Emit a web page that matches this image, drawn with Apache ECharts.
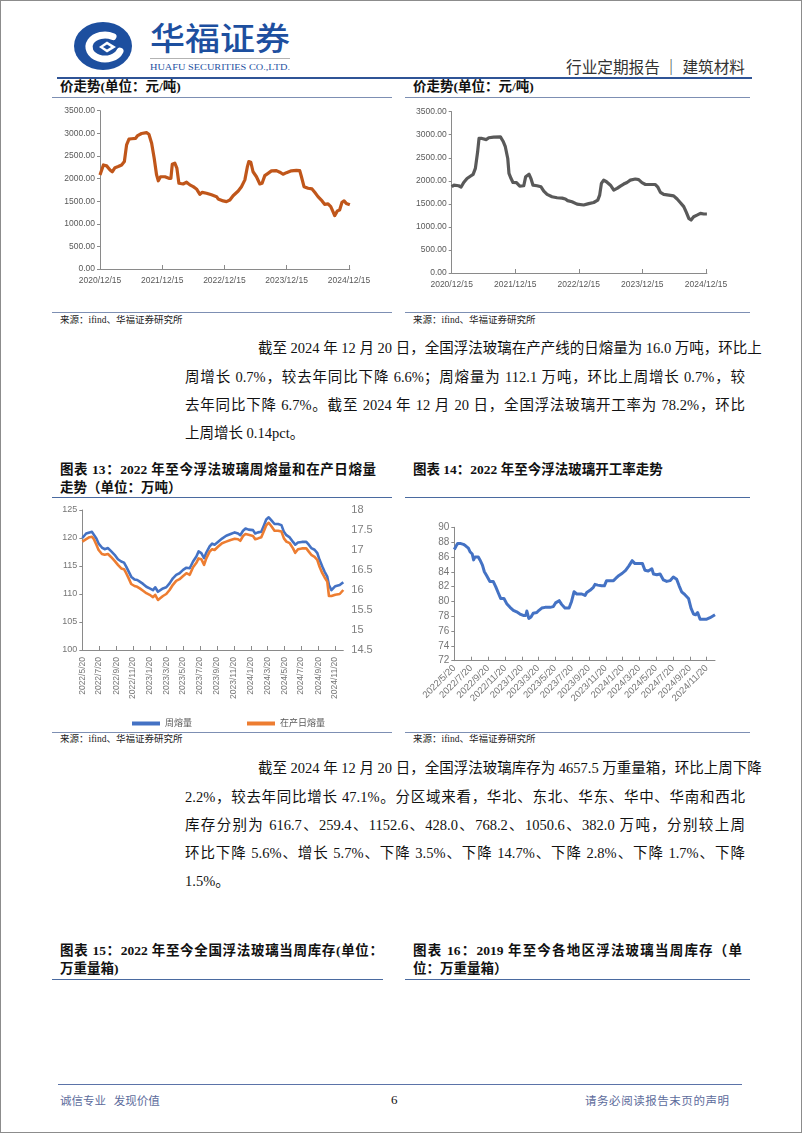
<!DOCTYPE html>
<html><head><meta charset="utf-8">
<script src="https://cdn.jsdelivr.net/npm/echarts@6.0.0/dist/echarts.min.js"></script>
<style>
html,body{margin:0;padding:0;background:#fff;}
#page{position:relative;width:802px;height:1133px;overflow:hidden;background:#fff;font-family:'Liberation Serif','Noto Sans CJK SC',serif;color:#111;}
#frame{position:absolute;left:0;top:0;width:802px;height:1133px;box-sizing:border-box;border:1px solid #8c8c8c;pointer-events:none;}
.t{position:absolute;white-space:nowrap;}
.j{text-align:justify;text-align-last:justify;}
.body{font-size:14.5px;line-height:20px;height:20px;}
.h{font-size:13.5px;font-weight:bold;line-height:18px;height:18px;}
.src{font-size:9.5px;line-height:12px;height:12px;color:#222;}
.rule{position:absolute;height:0;border-top:1px solid #7d8fb3;}
.foot{font-size:11.5px;line-height:14px;color:#5d6c9c;font-family:'Noto Sans CJK SC',sans-serif;}
#chart{position:absolute;left:0;top:0;width:802px;height:1133px;}
</style></head>
<body>
<div id="page">
<svg style="position:absolute;left:0;top:0" width="802" height="82">
  <ellipse cx="103" cy="46" rx="29" ry="24" fill="#1d4f9f"/>
  <path d="M113 36.6 A16 12 0 1 0 120 51.1" stroke="#fff" stroke-width="7" fill="none" stroke-linecap="round"/>
  <polygon points="99,47 107,41.5 116,47 107,52.5" fill="#fff"/>
  <polygon points="103,47 107,44.5 111,47 107,49.5" fill="#1d4f9f"/>
  <text x="150" y="50" font-size="32" fill="#1d4f9f" textLength="140" lengthAdjust="spacingAndGlyphs" font-family="Noto Sans CJK SC" font-weight="500">华福证券</text>
  <line x1="150" y1="58.5" x2="290" y2="58.5" stroke="#a0a0a0" stroke-width="0.8"/>
  <text x="150" y="70" font-size="9" textLength="140" lengthAdjust="spacingAndGlyphs" font-family="Liberation Serif" fill="#1d4f9f">HUAFU SECURITIES CO.,LTD.</text>
  <text x="566" y="73" font-size="16" textLength="179" lengthAdjust="spacingAndGlyphs" font-family="Noto Sans CJK SC" fill="#333">行业定期报告 ｜ 建筑材料</text>
</svg>
<div class="rule" style="left:57px;top:77px;width:695px;border-top:2px solid #2f5496;"></div>

<div class="t h" style="left:60px;top:78px;">价走势(单位：元/吨)</div>
<div class="t h" style="left:413px;top:78px;">价走势(单位：元/吨)</div>
<div class="rule" style="left:52px;top:97px;width:340px;"></div>
<div class="rule" style="left:405px;top:97px;width:345px;"></div>
<div class="rule" style="left:52px;top:312px;width:340px;"></div>
<div class="rule" style="left:405px;top:312px;width:345px;"></div>
<div class="t src" style="left:60px;top:314px;">来源：ifind、华福证券研究所</div>
<div class="t src" style="left:413px;top:314px;">来源：ifind、华福证券研究所</div>

<div class="t body j" style="left:258px;top:338px;width:487px;">截至 2024 年 12 月 20 日，全国浮法玻璃在产产线的日熔量为 16.0 万吨，环比上</div>
<div class="t body j" style="left:185px;top:367px;width:560px;">周增长 0.7%，较去年同比下降 6.6%；周熔量为 112.1 万吨，环比上周增长 0.7%，较</div>
<div class="t body j" style="left:185px;top:395px;width:560px;">去年同比下降 6.7%。截至 2024 年 12 月 20 日，全国浮法玻璃开工率为 78.2%，环比</div>
<div class="t body" style="left:185px;top:423px;">上周增长 0.14pct。</div>

<div class="t h j" style="left:60px;top:461px;width:316px;">图表 13：2022 年至今浮法玻璃周熔量和在产日熔量</div>
<div class="t h" style="left:60px;top:479px;">走势（单位：万吨）</div>
<div class="t h" style="left:413px;top:461px;">图表 14：2022 年至今浮法玻璃开工率走势</div>
<div class="rule" style="left:52px;top:497px;width:340px;border-top:1.5px solid #4a6aa0;"></div>
<div class="rule" style="left:405px;top:497px;width:345px;border-top:1.5px solid #4a6aa0;"></div>
<div class="rule" style="left:52px;top:732px;width:340px;"></div>
<div class="rule" style="left:405px;top:732px;width:345px;"></div>
<div class="t src" style="left:60px;top:733px;">来源：ifind、华福证券研究所</div>
<div class="t src" style="left:413px;top:733px;">来源：ifind、华福证券研究所</div>

<div class="t body j" style="left:258px;top:758px;width:487px;">截至 2024 年 12 月 20 日，全国浮法玻璃库存为 4657.5 万重量箱，环比上周下降</div>
<div class="t body j" style="left:185px;top:787px;width:560px;">2.2%，较去年同比增长 47.1%。分区域来看，华北、东北、华东、华中、华南和西北</div>
<div class="t body j" style="left:185px;top:815px;width:560px;">库存分别为 616.7、259.4、1152.6、428.0、768.2、1050.6、382.0 万吨，分别较上周</div>
<div class="t body j" style="left:185px;top:843px;width:560px;">环比下降 5.6%、增长 5.7%、下降 3.5%、下降 14.7%、下降 2.8%、下降 1.7%、下降</div>
<div class="t body" style="left:185px;top:871px;">1.5%。</div>

<div class="t h j" style="left:60px;top:942px;width:323px;">图表 15：2022 年至今全国浮法玻璃当周库存(单位：</div>
<div class="t h" style="left:60px;top:960px;">万重量箱)</div>
<div class="t h j" style="left:413px;top:942px;width:329px;">图表 16：2019 年至今各地区浮法玻璃当周库存（单</div>
<div class="t h" style="left:413px;top:960px;">位：万重量箱）</div>
<div class="rule" style="left:52px;top:979px;width:331px;border-top:1.5px solid #4a6aa0;"></div>
<div class="rule" style="left:405px;top:979px;width:345px;border-top:1.5px solid #4a6aa0;"></div>

<div class="rule" style="left:58px;top:1084px;width:684px;border-top:1.5px solid #5b73a8;"></div>
<div class="t foot" style="left:60px;top:1093px;">诚信专业&nbsp;&nbsp;&nbsp;发现价值</div>
<div class="t" style="left:391px;top:1092px;font-size:13px;line-height:16px;font-family:'Liberation Serif';">6</div>
<div class="t foot j" style="left:585px;top:1093px;width:144px;">请务必阅读报告末页的声明</div>

<div id="chart"></div>
<div id="frame"></div>
</div>
<script>
// ---- data ----
const priceTicks = ['2020/12/15','2021/12/15','2022/12/15','2023/12/15','2024/12/15'];
const meltTicks = ['2022/5/20','2022/7/20','2022/9/20','2022/11/20','2023/1/20','2023/3/20','2023/5/20','2023/7/20','2023/9/20','2023/11/20','2024/1/20','2024/3/20','2024/5/20','2024/7/20','2024/9/20','2024/11/20'];

const p1Dates = ['2020-12-15','2021-01-04','2021-01-23','2021-02-12','2021-02-25','2021-03-13','2021-04-01','2021-04-21','2021-05-07','2021-05-20',
'2021-06-03','2021-06-19','2021-07-12','2021-07-24','2021-08-16','2021-09-14','2021-09-28','2021-10-14','2021-10-29','2021-11-12',
'2021-11-22','2021-12-05','2021-12-31','2022-01-23','2022-02-04','2022-02-12','2022-02-27','2022-03-11','2022-03-23','2022-04-17',
'2022-05-07','2022-05-17','2022-05-26','2022-06-15','2022-07-04','2022-07-24','2022-08-07','2022-09-01','2022-09-30','2022-10-30',
'2022-11-08','2022-12-08','2022-12-27','2023-01-16','2023-02-04','2023-03-06','2023-03-25','2023-04-14','2023-04-29','2023-05-07',
'2023-05-19','2023-06-01','2023-06-21','2023-07-11','2023-07-24','2023-08-09','2023-08-28','2023-09-17','2023-10-16','2023-11-05',
'2023-11-24','2023-12-14','2024-01-12','2024-02-10','2024-03-01','2024-03-11','2024-03-26','2024-04-19','2024-05-12','2024-05-28',
'2024-06-16','2024-07-10','2024-07-25','2024-08-14','2024-08-30','2024-09-12','2024-09-22','2024-10-08','2024-10-21','2024-11-04',
'2024-11-16','2024-11-29','2024-12-20'];
const p1Values = [2080,2300,2280,2190,2150,2240,2265,2300,2375,2745,
2870,2880,2890,2950,2995,3015,2980,2780,2450,2080,
1950,2040,2040,2005,2005,2315,2340,2230,1895,1880,
1920,1930,1860,1820,1770,1650,1695,1675,1640,1600,
1550,1505,1490,1525,1620,1725,1820,1970,2265,2375,
2360,2150,2040,1880,1895,2065,2115,2170,2175,2140,
2095,2130,2170,2180,2175,2040,1820,1785,1770,1695,
1600,1505,1430,1440,1380,1270,1180,1285,1305,1475,
1505,1450,1420];

const p2Dates = ['2020-12-15','2020-12-27','2021-01-24','2021-02-07','2021-02-22','2021-03-13','2021-04-01','2021-04-17','2021-04-30','2021-05-13',
'2021-05-21','2021-06-07','2021-07-02','2021-07-16','2021-08-13','2021-09-21','2021-10-06','2021-10-19','2021-11-02','2021-11-09',
'2021-11-21','2021-12-02','2021-12-22','2022-01-10','2022-02-02','2022-02-13','2022-03-04','2022-03-16','2022-03-27','2022-04-19',
'2022-05-12','2022-05-28','2022-06-16','2022-07-14','2022-08-12','2022-09-10','2022-09-29','2022-10-12','2022-11-06','2022-12-05',
'2023-01-12','2023-02-10','2023-03-11','2023-04-03','2023-04-14','2023-04-24','2023-05-07','2023-05-23','2023-06-15','2023-07-04',
'2023-07-23','2023-08-11','2023-08-30','2023-09-18','2023-10-07','2023-11-05','2023-11-24','2023-12-13','2024-01-02','2024-02-28',
'2024-03-12','2024-03-28','2024-04-16','2024-05-15','2024-06-12','2024-07-02','2024-07-21','2024-08-09','2024-08-24','2024-09-07',
'2024-09-20','2024-10-05','2024-10-24','2024-11-13','2024-12-02','2024-12-20'];
const p2Values = [1870,1905,1893,1865,1965,2050,2100,2140,2270,2630,
2920,2920,2895,2935,2950,2955,2860,2740,2485,2160,
2050,1965,1960,1885,1893,2090,2145,2040,1905,1893,
1870,1775,1705,1655,1633,1625,1605,1570,1545,1495,
1475,1505,1530,1580,1690,1945,2015,1980,1905,1800,
1835,1885,1930,1965,2015,2040,2025,1960,1920,1920,
1870,1750,1705,1690,1675,1605,1525,1440,1315,1185,
1150,1220,1255,1295,1280,1280];

const meltDates = ['2022-05-20','2022-06-03','2022-06-15','2022-06-24','2022-07-01','2022-07-10','2022-07-18','2022-07-30','2022-08-09','2022-08-21',
'2022-09-02','2022-09-14','2022-09-26','2022-10-08','2022-10-18','2022-10-26','2022-11-04','2022-11-13','2022-11-25','2022-12-05',
'2022-12-14','2022-12-26','2023-01-07','2023-01-19','2023-01-31','2023-02-08','2023-02-18','2023-02-24','2023-03-08','2023-03-20',
'2023-04-01','2023-04-13','2023-04-25','2023-05-07','2023-05-20','2023-06-01','2023-06-13','2023-06-25','2023-07-07','2023-07-15',
'2023-07-25','2023-08-04','2023-08-12','2023-08-24','2023-09-02','2023-09-11','2023-09-23','2023-10-08','2023-10-23','2023-11-08',
'2023-11-23','2023-12-05','2023-12-13','2023-12-23','2024-01-01','2024-01-12','2024-01-28','2024-02-05','2024-02-15','2024-02-27',
'2024-03-08','2024-03-16','2024-03-25','2024-04-03','2024-04-15','2024-04-28','2024-05-10','2024-05-19','2024-05-28','2024-06-09',
'2024-06-21','2024-06-29','2024-07-09','2024-07-23','2024-08-08','2024-08-17','2024-08-26','2024-09-07','2024-09-17','2024-09-25',
'2024-10-05','2024-10-13','2024-10-23','2024-10-29','2024-11-07','2024-11-14','2024-11-21','2024-11-28','2024-12-07','2024-12-20'];
const weeklyMelt = [120.0,120.8,121.0,121.1,120.8,119.9,119.0,118.3,118.0,118.2,
117.6,117.0,116.2,115.8,115.6,114.9,114.0,113.1,112.6,112.5,
112.2,111.8,111.3,111.0,110.7,111.2,110.4,110.7,111.0,111.2,
111.9,112.8,113.4,113.7,114.3,114.7,114.6,115.8,116.7,117.6,
117.3,116.4,117.4,118.5,119.0,118.8,119.3,119.9,120.4,120.7,
121.0,120.8,120.5,121.3,121.7,121.5,121.4,120.8,121.0,121.1,
122.3,123.3,123.7,123.2,122.5,122.5,122.3,121.1,120.5,120.1,
119.3,118.8,119.2,119.3,119.3,118.8,118.2,117.9,117.3,116.1,
114.9,114.0,113.1,111.6,110.7,111.0,111.4,111.2,111.6,112.1];
const dailyMelt = [17.21,17.27,17.32,17.33,17.27,17.13,17.00,16.90,16.88,16.90,
16.82,16.73,16.63,16.54,16.52,16.42,16.29,16.15,16.10,16.08,
16.04,15.98,15.92,15.88,15.82,15.88,15.75,15.79,15.85,15.90,
16.00,16.13,16.23,16.27,16.35,16.42,16.38,16.57,16.68,16.79,
16.77,16.63,16.79,16.96,17.02,17.00,17.08,17.17,17.21,17.25,
17.28,17.27,17.23,17.35,17.40,17.38,17.35,17.27,17.29,17.32,
17.48,17.62,17.68,17.60,17.48,17.48,17.46,17.29,17.21,17.17,
17.04,16.93,17.02,17.04,17.04,16.96,16.88,16.83,16.75,16.58,
16.42,16.32,16.21,15.85,15.85,15.86,15.88,15.86,15.90,16.00];

const rateDates = ['2022-05-20','2022-05-27','2022-06-01','2022-06-13','2022-06-22','2022-06-30','2022-07-10','2022-07-16','2022-07-24','2022-07-29',
'2022-08-03','2022-08-15','2022-08-21','2022-08-30','2022-09-06','2022-09-14','2022-09-26','2022-10-08','2022-10-17','2022-10-27',
'2022-11-04','2022-11-16','2022-11-26','2022-12-08','2022-12-20','2023-01-01','2023-01-13','2023-01-25','2023-02-03','2023-02-07',
'2023-02-14','2023-02-22','2023-03-02','2023-03-15','2023-03-23','2023-04-02','2023-04-14','2023-05-02','2023-05-14','2023-05-22',
'2023-06-04','2023-06-13','2023-06-25','2023-07-10','2023-07-19','2023-07-28','2023-08-07','2023-08-25','2023-09-06','2023-09-12',
'2023-09-24','2023-10-06','2023-10-12','2023-10-22','2023-11-05','2023-11-15','2023-11-23','2023-12-05','2023-12-18','2023-12-26',
'2024-01-07','2024-01-19','2024-01-31','2024-02-12','2024-02-24','2024-03-05','2024-03-17','2024-04-01','2024-04-10','2024-04-22',
'2024-05-05','2024-05-11','2024-05-23','2024-06-04','2024-06-16','2024-06-28','2024-07-10','2024-07-22','2024-08-03','2024-08-12',
'2024-08-21','2024-09-02','2024-09-15','2024-09-24','2024-10-03','2024-10-11','2024-10-18','2024-10-27','2024-11-08','2024-11-20',
'2024-12-02','2024-12-20'];
const rateValues = [87.0,87.5,87.8,87.8,87.7,87.5,87.2,86.7,86.4,85.6,
86.0,86.0,85.6,84.9,84.0,83.5,82.7,82.7,82.0,81.1,
80.4,80.4,79.7,79.2,78.8,78.6,78.3,78.1,78.1,78.7,
77.7,77.9,78.4,78.5,78.8,79.1,79.2,79.2,79.3,79.8,
80.1,79.6,79.1,79.1,80.0,81.3,81.0,81.0,80.8,81.2,
81.5,81.9,82.3,82.2,82.1,82.1,82.8,82.8,82.8,83.1,
83.5,83.8,84.2,84.8,85.5,85.1,85.1,85.1,84.2,84.1,
84.4,83.7,83.6,83.7,82.9,82.7,82.8,83.3,83.0,82.1,
81.3,80.9,80.4,79.1,78.3,78.2,78.5,77.6,77.6,77.6,
77.8,78.2];

// ---- helpers ----
function ts(s){const p=s.split(/[-\/]/);return new Date(+p[0],+p[1]-1,+p[2]).getTime();}
function pairs(d,v){return d.map((x,i)=>[ts(x),v[i]]);}
function fmtDate(v){const d=new Date(v);return d.getFullYear()+'/'+(d.getMonth()+1)+'/'+d.getDate();}
const FF = "'Liberation Sans','Noto Sans CJK SC',sans-serif";
const AX = '#8a8a8a';

function dateAxis(grid, ticks, min, max, lab){
  const vals = ticks.map(ts);
  return {
    type:'value', gridIndex:grid, min:ts(min), max:ts(max), scale:true,
    axisLine:{show:true,onZero:false,lineStyle:{color:AX,width:1}},
    axisTick:{show:true,inside:true,length:4,lineStyle:{color:AX},customValues:vals},
    axisLabel:Object.assign({customValues:vals,formatter:fmtDate,color:'#595959',fontFamily:FF,hideOverlap:false,showMinLabel:true,showMaxLabel:true},lab),
    splitLine:{show:false}
  };
}
function valAxis(grid,min,max,interval,lab,extra){
  return Object.assign({
    type:'value', gridIndex:grid, min:min, max:max, interval:interval,
    axisLine:{show:true,lineStyle:{color:AX,width:1}},
    axisTick:{show:true,inside:false,length:3,lineStyle:{color:AX}},
    axisLabel:Object.assign({color:'#595959',fontFamily:FF,margin:5},lab),
    splitLine:{show:false}
  },extra||{});
}

const chart = echarts.init(document.getElementById('chart'),null,{renderer:'canvas'});
chart.setOption({
  animation:false,
  backgroundColor:'transparent',
  grid:[
    {left:100, top:110.7, width:249.85, height:158.3},
    {left:451.7, top:111.7, width:255.2, height:161.3},
    {left:82.3, top:510, width:261, height:140},
    {left:454.3, top:527.3, width:260.7, height:133.4}
  ],
  legend:{
    data:['周熔量','在产日熔量'], left:127, top:714, icon:'rect', itemWidth:28, itemHeight:4, itemGap:55,
    textStyle:{fontSize:9,color:'#595959',fontFamily:FF}
  },
  xAxis:[
    dateAxis(0, priceTicks, '2020-12-15','2024-12-20', {fontSize:8.5, margin:7}),
    dateAxis(1, priceTicks, '2020-12-15','2024-12-20', {fontSize:8.5, margin:7}),
    dateAxis(2, meltTicks, '2022-05-20','2024-12-20', {fontSize:8.5, margin:7, rotate:90, color:'#767676'}),
    dateAxis(3, meltTicks, '2022-05-20','2024-12-20', {fontSize:9.5, margin:6, rotate:45, color:'#767676'})
  ],
  yAxis:[
    valAxis(0,0,3500,500,{fontSize:8.5,formatter:v=>v.toFixed(2)}),
    valAxis(1,0,3500,500,{fontSize:8.5,formatter:v=>v.toFixed(2)}),
    valAxis(2,100,125,5,{fontSize:9,color:'#767676'}),
    valAxis(2,14.5,18,0.5,{fontSize:11,color:'#7f7f7f',margin:8},{position:'right',axisLine:{show:false},axisTick:{show:false}}),
    valAxis(3,72,90,2,{fontSize:10,color:'#767676'})
  ],
  series:[
    {type:'line',xAxisIndex:0,yAxisIndex:0,data:pairs(p1Dates,p1Values),symbol:'none',silent:true,
     lineStyle:{color:'#c0561a',width:3.2,join:'round'},itemStyle:{color:'#c0561a'}},
    {type:'line',xAxisIndex:1,yAxisIndex:1,data:pairs(p2Dates,p2Values),symbol:'none',silent:true,
     lineStyle:{color:'#595959',width:3.2,join:'round'},itemStyle:{color:'#595959'}},
    {name:'周熔量',type:'line',xAxisIndex:2,yAxisIndex:2,data:pairs(meltDates,weeklyMelt),symbol:'none',silent:true,
     lineStyle:{color:'#4472c4',width:2.6,join:'round'},itemStyle:{color:'#4472c4'}},
    {name:'在产日熔量',type:'line',xAxisIndex:2,yAxisIndex:3,data:pairs(meltDates,dailyMelt),symbol:'none',silent:true,
     lineStyle:{color:'#ed7d31',width:2.6,join:'round'},itemStyle:{color:'#ed7d31'}},
    {type:'line',xAxisIndex:3,yAxisIndex:4,data:pairs(rateDates,rateValues),symbol:'none',silent:true,
     lineStyle:{color:'#4472c4',width:3,join:'round'},itemStyle:{color:'#4472c4'}}
  ]
});
</script>
</body></html>
